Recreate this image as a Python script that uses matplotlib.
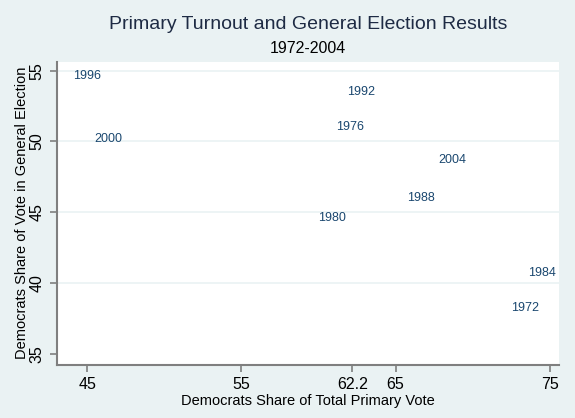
import matplotlib

matplotlib.use("Agg")
import matplotlib.pyplot as plt

# Stata-style labelled scatter: primary share vs general election share
years = ["1972", "1976", "1980", "1984", "1988", "1992", "1996", "2000", "2004"]
primary_share = [72.2, 60.9, 59.7, 73.3, 65.5, 61.6, 43.8, 45.2, 67.5]
general_share = [38.2, 51.0, 44.6, 40.7, 46.0, 53.5, 54.6, 50.2, 48.7]

x_ticks = [45, 55, 62.2, 65, 75]
x_tick_labels = ["45", "55", "62.2", "65", "75"]
y_ticks = [35, 40, 45, 50, 55]

BG = "#eaf2f3"
NAVY = "#1a476f"
AXIS = "#7f7f7f"

plt.rcParams["font.family"] = ["Liberation Sans", "DejaVu Sans"]

fig = plt.figure(figsize=(5.75, 4.18), dpi=100, facecolor=BG)
ax = fig.add_axes([0.0988, 0.1275, 0.873, 0.725])
ax.set_facecolor("white")

# invisible markers, labels at 3 o'clock
ax.scatter(primary_share, general_share, s=0, alpha=0)
for yr, x, y in zip(years, primary_share, general_share):
    ax.annotate(yr, (x, y), xytext=(3, 0), textcoords="offset points",
                ha="left", va="center", fontsize=9, color=NAVY,
                annotation_clip=False)

ax.set_xlim(43.03, 75.58)
ax.set_ylim(34.22, 55.64)
ax.set_xticks(x_ticks)
ax.set_xticklabels(x_tick_labels)
ax.set_yticks(y_ticks)
ax.tick_params(axis="y", labelrotation=90)
for lab in ax.get_yticklabels():
    lab.set_va("center")
ax.tick_params(direction="out", length=5, width=1.2, color=AXIS,
               labelsize=11.5, labelcolor="black", pad=4)

for yv in [40, 45, 50, 55]:
    ax.axhline(yv, color=BG, linewidth=1.2, zorder=0)

for side in ["top", "right"]:
    ax.spines[side].set_visible(False)
for side in ["left", "bottom"]:
    ax.spines[side].set_color(AXIS)
    ax.spines[side].set_linewidth(1.5)

ax.set_xlabel("Democrats Share of Total Primary Vote", fontsize=10.5, labelpad=1)
ax.set_ylabel("Democrats Share of Vote in General Election", fontsize=10.5, labelpad=0)

fig.text(0.536, 0.942, "Primary Turnout and General Election Results",
         ha="center", va="center", fontsize=14, color="#1e2b44")
fig.text(0.536, 0.885, "1972-2004", ha="center", va="center", fontsize=11.5, color="black")

fig.savefig("out.png", dpi=100, facecolor=BG)
